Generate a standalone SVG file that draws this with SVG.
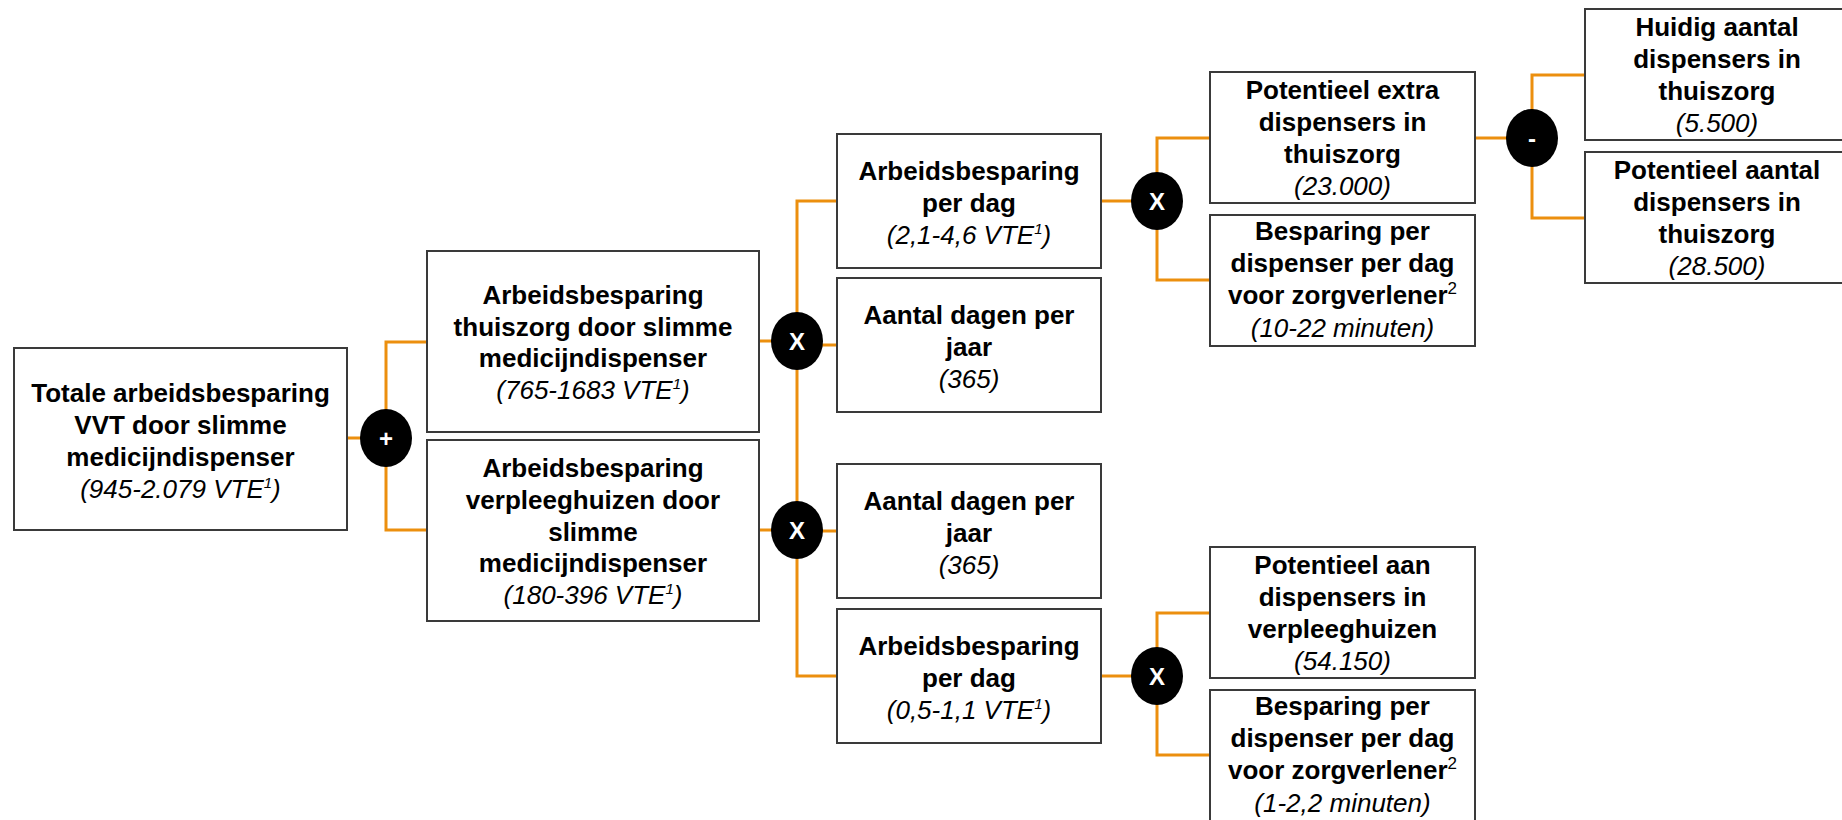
<svg xmlns="http://www.w3.org/2000/svg" width="1842" height="820" viewBox="0 0 1842 820">
<style>
.box{fill:#fff;stroke:#3a3a3a;stroke-width:2}
.t{font-family:"Liberation Sans",Arial,sans-serif;font-size:26px;text-anchor:middle;fill:#000}
.b{font-weight:bold}
.i{font-style:italic}
.sup{font-size:15px;font-style:italic}
.sup2{font-size:17px;font-weight:normal}
.conn{fill:none;stroke:#EC8F0E;stroke-width:3}
.op{fill:#000}
.opt{font-family:"Liberation Sans",Arial,sans-serif;font-size:24px;font-weight:bold;fill:#fff;text-anchor:middle}
</style>
<rect width="1842" height="820" fill="#fff"/>
<g id="connectors">
<path class="conn" d="M347,438 H386 M427,342 H386 V530 H427"/>
<path class="conn" d="M759,341 H797 M759,530 H797 M837,201 H797 V676 H837 M797,345 H837 M797,531 H837"/>
<path class="conn" d="M1101,201 H1157 M1210,138 H1157 V280 H1210"/>
<path class="conn" d="M1475,138 H1532 M1585,75 H1532 V218 H1585"/>
<path class="conn" d="M1101,676 H1157 M1210,613 H1157 V755 H1210"/>
</g>
<g id="n1">
<rect class="box" x="14" y="348" width="333" height="182"/>
<text class="t b" x="180.5" y="402">Totale arbeidsbesparing</text>
<text class="t b" x="180.5" y="434">VVT door slimme</text>
<text class="t b" x="180.5" y="466">medicijndispenser</text>
<text class="t i" x="180.5" y="498">(945-2.079 VTE<tspan class="sup" dy="-10">1</tspan><tspan dy="10">)</tspan></text>
</g>
<g id="op-plus"><ellipse class="op" cx="386" cy="438" rx="26" ry="29"/><text class="opt" x="386" y="447">+</text></g>
<g id="n2">
<rect class="box" x="427" y="251" width="332" height="181"/>
<text class="t b" x="593" y="304">Arbeidsbesparing</text>
<text class="t b" x="593" y="336">thuiszorg door slimme</text>
<text class="t b" x="593" y="367">medicijndispenser</text>
<text class="t i" x="593" y="399">(765-1683 VTE<tspan class="sup" dy="-10">1</tspan><tspan dy="10">)</tspan></text>
</g>
<g id="n3">
<rect class="box" x="427" y="440" width="332" height="181"/>
<text class="t b" x="593" y="477">Arbeidsbesparing</text>
<text class="t b" x="593" y="509">verpleeghuizen door</text>
<text class="t b" x="593" y="541">slimme</text>
<text class="t b" x="593" y="572">medicijndispenser</text>
<text class="t i" x="593" y="604">(180-396 VTE<tspan class="sup" dy="-10">1</tspan><tspan dy="10">)</tspan></text>
</g>
<g id="op-x1"><ellipse class="op" cx="797" cy="341" rx="26" ry="29"/><text class="opt" x="797" y="350">X</text></g>
<g id="op-x2"><ellipse class="op" cx="797" cy="530" rx="26" ry="29"/><text class="opt" x="797" y="539">X</text></g>
<g id="n4">
<rect class="box" x="837" y="134" width="264" height="134"/>
<text class="t b" x="969" y="180">Arbeidsbesparing</text>
<text class="t b" x="969" y="212">per dag</text>
<text class="t i" x="969" y="244">(2,1-4,6 VTE<tspan class="sup" dy="-10">1</tspan><tspan dy="10">)</tspan></text>
</g>
<g id="n5">
<rect class="box" x="837" y="278" width="264" height="134"/>
<text class="t b" x="969" y="324">Aantal dagen per</text>
<text class="t b" x="969" y="356">jaar</text>
<text class="t i" x="969" y="388">(365)</text>
</g>
<g id="n6">
<rect class="box" x="837" y="464" width="264" height="134"/>
<text class="t b" x="969" y="510">Aantal dagen per</text>
<text class="t b" x="969" y="542">jaar</text>
<text class="t i" x="969" y="574">(365)</text>
</g>
<g id="n7">
<rect class="box" x="837" y="609" width="264" height="134"/>
<text class="t b" x="969" y="655">Arbeidsbesparing</text>
<text class="t b" x="969" y="687">per dag</text>
<text class="t i" x="969" y="719">(0,5-1,1 VTE<tspan class="sup" dy="-10">1</tspan><tspan dy="10">)</tspan></text>
</g>
<g id="op-x3"><ellipse class="op" cx="1157" cy="201" rx="26" ry="29"/><text class="opt" x="1157" y="210">X</text></g>
<g id="op-x4"><ellipse class="op" cx="1157" cy="676" rx="26" ry="29"/><text class="opt" x="1157" y="685">X</text></g>
<g id="n8">
<rect class="box" x="1210" y="72" width="265" height="131"/>
<text class="t b" x="1342.5" y="99">Potentieel extra</text>
<text class="t b" x="1342.5" y="131">dispensers in</text>
<text class="t b" x="1342.5" y="163">thuiszorg</text>
<text class="t i" x="1342.5" y="195">(23.000)</text>
</g>
<g id="n9">
<rect class="box" x="1210" y="215" width="265" height="131"/>
<text class="t b" x="1342.5" y="240">Besparing per</text>
<text class="t b" x="1342.5" y="272">dispenser per dag</text>
<text class="t b" x="1342.5" y="304">voor zorgverlener<tspan class="sup2" dy="-10">2</tspan></text>
<text class="t i" x="1342.5" y="337">(10-22 minuten)</text>
</g>
<g id="op-minus"><ellipse class="op" cx="1532" cy="138" rx="26" ry="29"/><text class="opt" x="1532" y="147">-</text></g>
<g id="n10">
<rect class="box" x="1585" y="9" width="264" height="131"/>
<text class="t b" x="1717" y="36">Huidig aantal</text>
<text class="t b" x="1717" y="68">dispensers in</text>
<text class="t b" x="1717" y="100">thuiszorg</text>
<text class="t i" x="1717" y="132">(5.500)</text>
</g>
<g id="n11">
<rect class="box" x="1585" y="152" width="264" height="131"/>
<text class="t b" x="1717" y="179">Potentieel aantal</text>
<text class="t b" x="1717" y="211">dispensers in</text>
<text class="t b" x="1717" y="243">thuiszorg</text>
<text class="t i" x="1717" y="275">(28.500)</text>
</g>
<g id="n12">
<rect class="box" x="1210" y="547" width="265" height="131"/>
<text class="t b" x="1342.5" y="574">Potentieel aan</text>
<text class="t b" x="1342.5" y="606">dispensers in</text>
<text class="t b" x="1342.5" y="638">verpleeghuizen</text>
<text class="t i" x="1342.5" y="670">(54.150)</text>
</g>
<g id="n13">
<rect class="box" x="1210" y="690" width="265" height="131"/>
<text class="t b" x="1342.5" y="715">Besparing per</text>
<text class="t b" x="1342.5" y="747">dispenser per dag</text>
<text class="t b" x="1342.5" y="779">voor zorgverlener<tspan class="sup2" dy="-10">2</tspan></text>
<text class="t i" x="1342.5" y="812">(1-2,2 minuten)</text>
</g>
</svg>
